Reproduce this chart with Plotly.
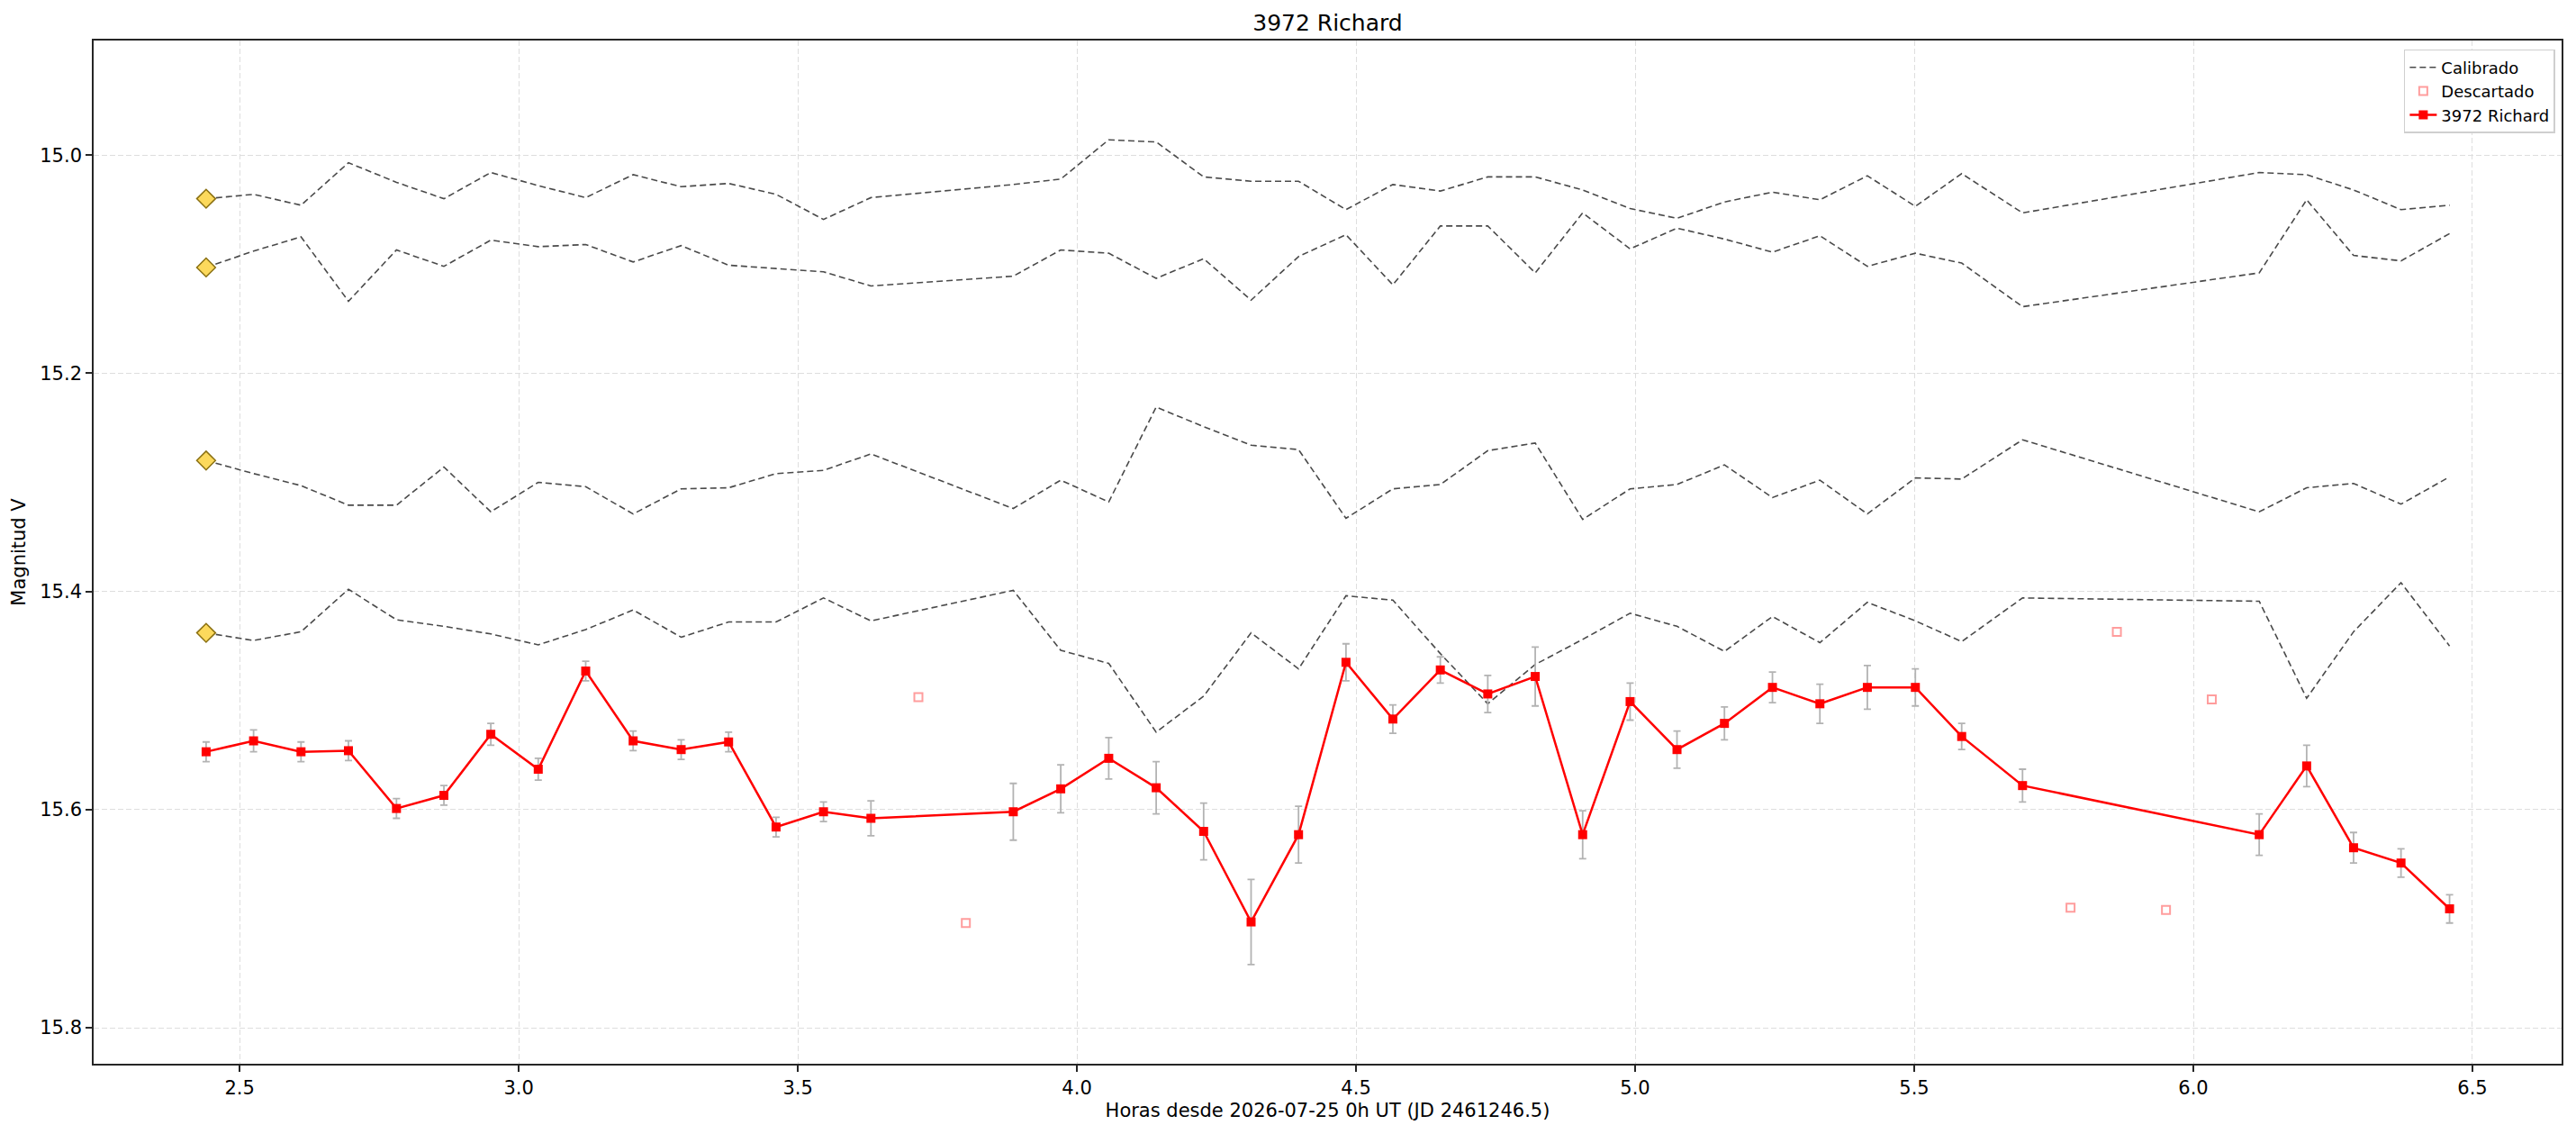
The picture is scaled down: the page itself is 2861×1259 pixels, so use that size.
import plotly.graph_objects as go

# ---- data (hours since 2026-07-25 0h UT) ----
times = [2.440, 2.525, 2.610, 2.695, 2.781, 2.866, 2.950, 3.035, 3.120, 3.205,
         3.291, 3.376, 3.461, 3.546, 3.631, 3.886, 3.971, 4.057, 4.142, 4.227,
         4.312, 4.397, 4.482, 4.566, 4.651, 4.736, 4.821, 4.906, 4.991, 5.075,
         5.160, 5.246, 5.331, 5.416, 5.502, 5.585, 5.694, 6.118, 6.203, 6.287,
         6.372, 6.459]

richard_mag = [15.547, 15.537, 15.547, 15.546, 15.599, 15.587, 15.531, 15.563, 15.473, 15.537,
               15.545, 15.538, 15.616, 15.602, 15.608, 15.602, 15.581, 15.553, 15.580, 15.620,
               15.703, 15.623, 15.465, 15.517, 15.472, 15.494, 15.478, 15.623, 15.501, 15.545,
               15.521, 15.488, 15.503, 15.488, 15.488, 15.533, 15.578, 15.623, 15.560, 15.635,
               15.649, 15.691]

richard_err = [0.009, 0.010, 0.009, 0.009, 0.009, 0.009, 0.010, 0.010, 0.009, 0.009,
               0.009, 0.009, 0.009, 0.009, 0.016, 0.026, 0.022, 0.019, 0.024, 0.026,
               0.039, 0.026, 0.017, 0.013, 0.012, 0.017, 0.027, 0.022, 0.017, 0.017,
               0.015, 0.014, 0.018, 0.020, 0.017, 0.012, 0.015, 0.019, 0.019, 0.014,
               0.013, 0.013]

calib_1 = [15.040, 15.036, 15.046, 15.007, 15.025, 15.040, 15.016, 15.028, 15.039, 15.018,
           15.029, 15.026, 15.036, 15.059, 15.039, 15.027, 15.022, 14.986, 14.988, 15.020,
           15.024, 15.024, 15.050, 15.027, 15.033, 15.020, 15.020, 15.032, 15.049, 15.058,
           15.043, 15.034, 15.041, 15.019, 15.047, 15.017, 15.053, 15.016, 15.018, 15.032,
           15.050, 15.046]

calib_2 = [15.103, 15.088, 15.075, 15.134, 15.087, 15.102, 15.078, 15.084, 15.082, 15.098,
           15.083, 15.101, 15.104, 15.107, 15.120, 15.111, 15.087, 15.090, 15.113, 15.095,
           15.133, 15.093, 15.073, 15.119, 15.065, 15.065, 15.108, 15.053, 15.086, 15.067,
           15.077, 15.089, 15.074, 15.102, 15.090, 15.099, 15.139, 15.108, 15.041, 15.092,
           15.097, 15.072]

calib_3 = [15.280, 15.292, 15.303, 15.321, 15.321, 15.286, 15.327, 15.300, 15.304, 15.329,
           15.306, 15.305, 15.292, 15.289, 15.274, 15.324, 15.298, 15.318, 15.231, 15.249,
           15.266, 15.270, 15.333, 15.306, 15.302, 15.271, 15.264, 15.334, 15.306, 15.302,
           15.284, 15.314, 15.298, 15.329, 15.296, 15.297, 15.261, 15.327, 15.305, 15.301,
           15.320, 15.295]

calib_4 = [15.438, 15.445, 15.437, 15.398, 15.426, 15.432, 15.439, 15.449, 15.435, 15.417,
           15.442, 15.428, 15.428, 15.406, 15.427, 15.399, 15.454, 15.466, 15.529, 15.496,
           15.438, 15.471, 15.404, 15.408, 15.457, 15.503, 15.467, 15.444, 15.420, 15.432,
           15.455, 15.423, 15.447, 15.410, 15.427, 15.446, 15.406, 15.409, 15.498, 15.437,
           15.392, 15.450]

discard_times = [3.716, 3.801, 5.780, 5.863, 5.951, 6.033]
discard_mag = [15.497, 15.704, 15.690, 15.437, 15.692, 15.499]

x_ticks = [2.5, 3.0, 3.5, 4.0, 4.5, 5.0, 5.5, 6.0, 6.5]
y_ticks = [15.0, 15.2, 15.4, 15.6, 15.8]

title_text = "3972 Richard"
x_title = "Horas desde 2026-07-25 0h UT (JD 2461246.5)"
y_title = "Magnitud V"

FONT = "DejaVu Sans"

fig = go.Figure()

calibs = [calib_1, calib_2, calib_3, calib_4]
for i, c in enumerate(calibs):
    fig.add_trace(go.Scatter(
        x=times, y=c, mode="lines", name="Calibrado",
        showlegend=(i == 0), legendgroup="cal",
        line=dict(color="#4a4a4a", width=1.6, dash="7px,4px"),
        hoverinfo="skip"))

fig.add_trace(go.Scatter(
    x=[times[0]] * 4, y=[c[0] for c in calibs], mode="markers",
    showlegend=False,
    marker=dict(symbol="diamond", size=16, color="#fcd95c",
                line=dict(color="#8a7012", width=1.5))))

fig.add_trace(go.Scatter(
    x=discard_times, y=discard_mag, mode="markers", name="Descartado",
    marker=dict(symbol="square-open", size=9, color="rgba(255,60,60,0.5)",
                line=dict(width=2))))

fig.add_trace(go.Scatter(
    x=times, y=richard_mag, mode="lines+markers", name=title_text,
    line=dict(color="#ff0000", width=2.5),
    marker=dict(symbol="square", size=10, color="#ff0000"),
    error_y=dict(type="data", array=richard_err, visible=True,
                 color="#b3b3b3", thickness=1.8, width=4)))

axis_common = dict(
    showline=True, mirror=True, linecolor="#262626", linewidth=1.6,
    ticks="outside", ticklen=7, tickwidth=1.5, tickcolor="#262626",
    showgrid=True, gridcolor="#dedede", gridwidth=1.2, griddash="6px,3px",
    zeroline=False,
    tickfont=dict(family=FONT, size=21, color="black"),
)

fig.update_layout(
    width=2861, height=1259,
    paper_bgcolor="white", plot_bgcolor="white",
    margin=dict(l=104, r=16, t=45, b=78, autoexpand=False),
    font=dict(family=FONT, color="black"),
    title=dict(text=title_text, x=0.5, xref="paper", xanchor="center",
               y=1 - 25 / 1259, yref="container", yanchor="middle",
               font=dict(family=FONT, size=25, color="black")),
    xaxis=dict(range=[2.2385, 6.6597], tickvals=x_ticks,
               ticktext=[f"{v:.1f}" for v in x_ticks],
               title=dict(text=x_title, standoff=6,
                          font=dict(family=FONT, size=21, color="black")),
               **axis_common),
    yaxis=dict(range=[15.833, 14.895], tickvals=y_ticks,
               ticktext=[f"{v:.1f}" for v in y_ticks],
               title=dict(text=y_title, standoff=10,
                          font=dict(family=FONT, size=21, color="black")),
               **axis_common),
    legend=dict(x=0.9974, y=0.9912, xanchor="right", yanchor="top",
                bgcolor="white", bordercolor="#cfcfcf", borderwidth=1.5,
                font=dict(family=FONT, size=18, color="black"),
                itemwidth=30, tracegroupgap=0),
    showlegend=True,
)

fig.write_html("out.html")
